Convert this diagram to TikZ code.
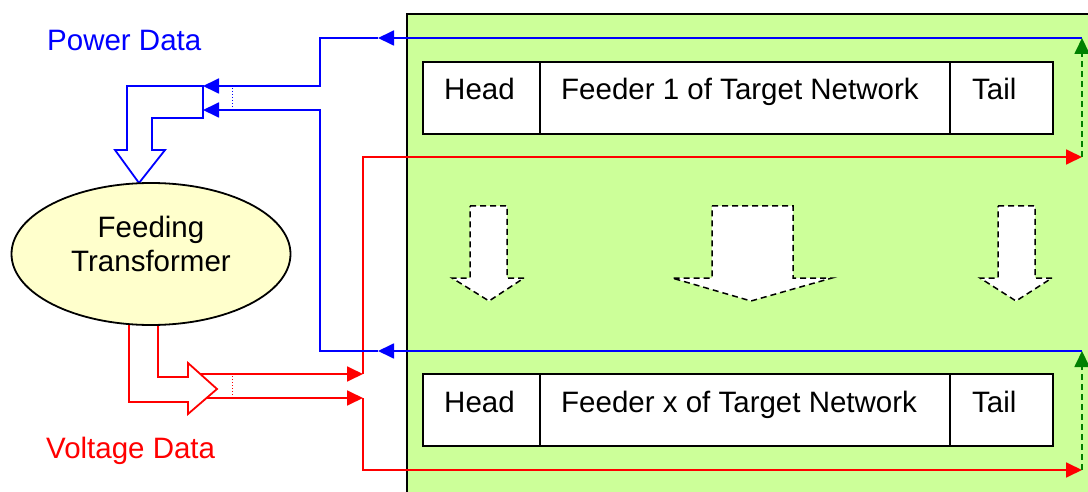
\documentclass[tikz,border=0pt]{standalone}
\usepackage{fontspec}
\setmainfont{Liberation Sans}
\usetikzlibrary{arrows.meta,shapes.geometric}
\definecolor{pgreen}{RGB}{204,255,153}
\definecolor{pyellow}{RGB}{255,255,204}
\definecolor{pblue}{RGB}{0,0,255}
\definecolor{pred}{RGB}{255,0,0}
\definecolor{dgreen}{RGB}{0,128,0}
\tikzset{
  wire/.style={line width=1.8pt},
  bwire/.style={wire, draw=pblue},
  rwire/.style={wire, draw=pred},
  tip/.style={-{Triangle[length=16pt,width=15pt]}},
  cell/.style={draw=black, fill=white, line width=1.8pt, minimum height=72pt, inner sep=0pt},
  lbl/.style={font=\fontsize{29.5}{34}\selectfont, inner sep=0pt, anchor=base west},
  blockarrow/.style={line width=1.8pt, fill=white, line join=miter},
  dblock/.style={draw=black, dashed, dash pattern=on 6pt off 4pt, line width=1.5pt, fill=white},
}
\begin{document}
\begin{tikzpicture}[x=1pt,y=-1pt]
\useasboundingbox (0,0) rectangle (1088,492);
% green area
\fill[pgreen] (407,14) rectangle (1090,494);
\draw[line width=1.8pt] (407,494) -- (407,14) -- (1090,14);

% feeder boxes
\node[cell, minimum width=117pt] (h1) at (481.5,98) {};
\node[cell, minimum width=410pt] (f1) at (745,98) {};
\node[cell, minimum width=103pt] (t1) at (1001.5,98) {};
\node[lbl] (h1t) at (444,100) {Head};
\node[lbl] (f1t) at (561,100) {Feeder 1 of Target Network};
\node[lbl] (t1t) at (972,100) {Tail};
\node[cell, minimum width=117pt] (h2) at (481.5,410) {};
\node[cell, minimum width=410pt] (f2) at (745,410) {};
\node[cell, minimum width=103pt] (t2) at (1001.5,410) {};
\node[lbl] (h2t) at (444,412) {Head};
\node[lbl] (f2t) at (561,412) {Feeder x of Target Network};
\node[lbl] (t2t) at (972,412) {Tail};

% dashed block arrows
\draw[dblock] (470,206) -- (507,206) -- (507,278) -- (524,278) -- (489,301) -- (452,278) -- (470,278) -- cycle;
\draw[dblock] (712,206) -- (793,206) -- (793,278) -- (832,278) -- (751,301) -- (672,278) -- (712,278) -- cycle;
\draw[dblock] (998,206) -- (1035,206) -- (1035,278) -- (1052,278) -- (1016,301) -- (980,278) -- (998,278) -- cycle;

% coordinates
\coordinate (bR1) at (1082,38);
\coordinate (bM1) at (378,38);
\coordinate (bC1) at (320,38);
\coordinate (bC2) at (320,86);
\coordinate (bE1) at (203,86);
\coordinate (bR2) at (1082,351);
\coordinate (bM2) at (378,351);
\coordinate (bC3) at (320,351);
\coordinate (bC4) at (320,110);
\coordinate (bE2) at (203,110);
\coordinate (rS1) at (195,374);
\coordinate (rM1) at (363,374);
\coordinate (rC1) at (363,157);
\coordinate (rR1) at (1082,157);
\coordinate (rS2) at (195,398);
\coordinate (rM2) at (363,398);
\coordinate (rC2) at (363,470);
\coordinate (rR2) at (1082,470);

% red lines
\draw[rwire, tip] (rS1) -- (rM1);
\draw[rwire, tip] (rM1) -- (rC1) -- (rR1);
\draw[rwire, tip] (rS2) -- (rM2);
\draw[rwire, tip] (rM2) -- (rC2) -- (rR2);
\draw[pred, line width=1pt, dotted] (232,376) -- (232,397);

% blue lines
\draw[bwire, tip] (bR1) -- (bM1);
\draw[bwire, tip] (bM1) -- (bC1) -- (bC2) -- (bE1);
\draw[bwire, tip] (bR2) -- (bM2);
\draw[bwire, tip] (bM2) -- (bC3) -- (bC4) -- (bE2);
\draw[pblue, line width=1pt, dotted] (232,88) -- (232,108);

% green dashed up arrows
\draw[dgreen, line width=1.8pt, dash pattern=on 6pt off 4pt, tip] (rR1) -- (bR1);
\draw[dgreen, line width=1.8pt, dash pattern=on 6pt off 4pt, tip] (rR2) -- (bR2);

% blue block arrow
\draw[blockarrow, draw=pblue] (127,150) -- (127,86) -- (203,86) -- (203,118) -- (152,118) -- (152,150) -- (165,150) -- (139,183) -- (115,150) -- cycle;
% red block arrow
\draw[blockarrow, draw=pred] (129,322) -- (129,402) -- (188,402) -- (188,414) -- (217,389) -- (188,363) -- (188,377) -- (158,377) -- (158,322) -- cycle;

% transformer
\node[draw=black, fill=pyellow, ellipse, line width=1.8pt, minimum width=279pt, minimum height=142pt, inner sep=0pt] (tr) at (151,254) {};
\node[font=\fontsize{29.5}{34}\selectfont, inner sep=0pt, anchor=base] (trt1) at (151,237) {Feeding};
\node[font=\fontsize{29.5}{34}\selectfont, inner sep=0pt, anchor=base] (trt2) at (151,271) {Transformer};

% labels
\node[lbl, text=pblue] (pd) at (47,51) {Power Data};
\node[lbl, text=pred] (vd) at (46,458) {Voltage Data};
\end{tikzpicture}
\end{document}
